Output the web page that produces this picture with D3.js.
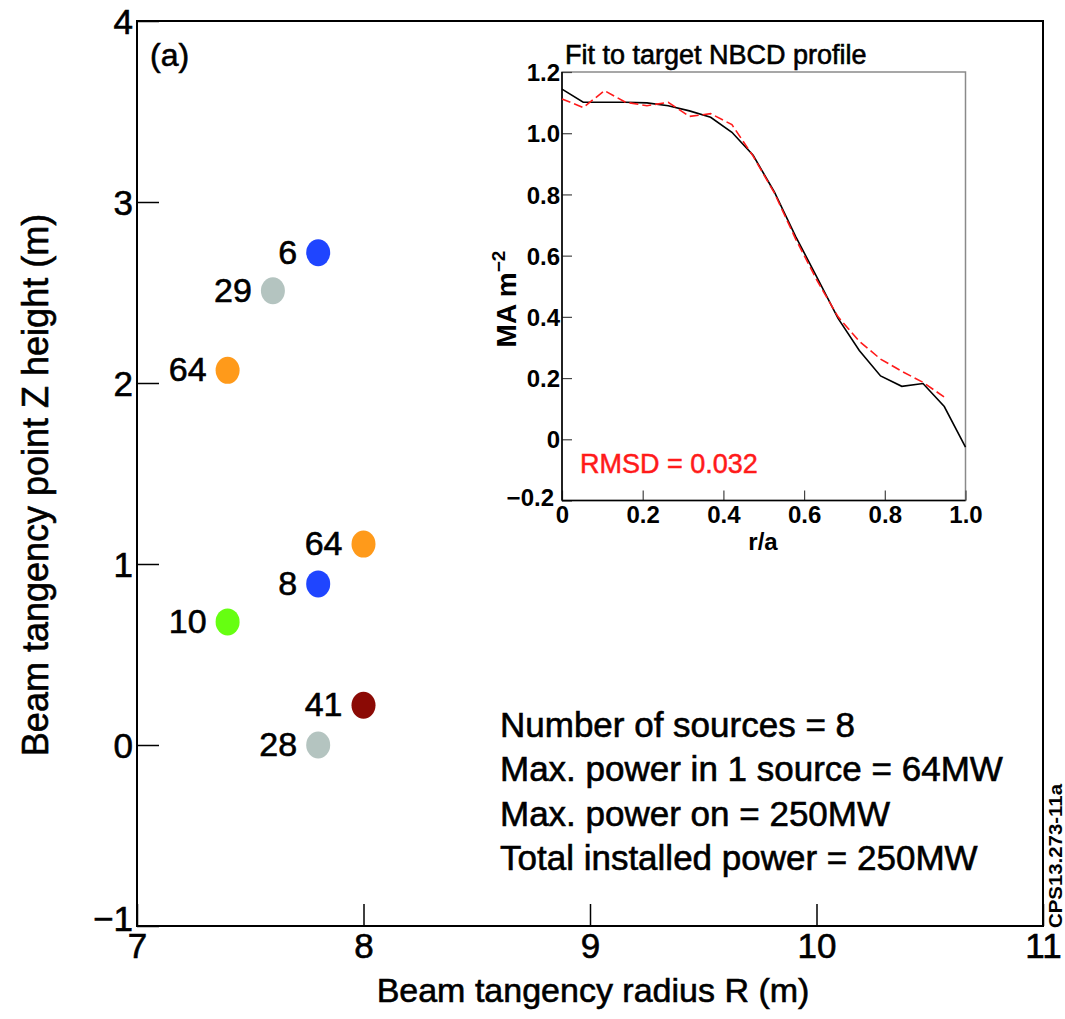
<!DOCTYPE html>
<html>
<head>
<meta charset="utf-8">
<script src="https://cdn.jsdelivr.net/npm/d3@7"></script>
<style>
  html, body { margin: 0; padding: 0; background: #fff; }
  svg { display: block; font-family: "Liberation Sans", Arial, Helvetica, sans-serif; }
  .heavy { stroke: #000; stroke-width: 0.6px; paint-order: stroke; }
  .heavyRed { stroke: #ff1a1a; stroke-width: 0.5px; paint-order: stroke; }
</style>
</head>
<body>
<svg id="chart" width="1065" height="1019"></svg>
<script>
// ---- Main chart data: beam sources ----
const sourceR = [7.8, 7.6, 7.4, 8.0, 7.8, 7.4, 8.0, 7.8];
const sourceZ = [2.72, 2.51, 2.07, 1.11, 0.89, 0.68, 0.22, 0.0];
const sourcePower = ["6", "29", "64", "64", "8", "10", "41", "28"];
const sourceColor = ["#1f45ff", "#b4c4c0", "#ff9a1a", "#ff9a1a", "#1f45ff", "#66ff11", "#8b0a05", "#b4c4c0"];
const mainXTicks = [7, 8, 9, 10, 11];
const mainYTicks = [-1, 0, 1, 2, 3, 4];
const infoLines = [
  "Number of sources = 8",
  "Max. power in 1 source = 64MW",
  "Max. power on = 250MW",
  "Total installed power = 250MW"
];

// ---- Inset data: NBCD profile ----
const rGrid = [0, 0.0526, 0.1053, 0.1579, 0.2105, 0.2632, 0.3158, 0.3684, 0.4211, 0.4737,
               0.5263, 0.5789, 0.6316, 0.6842, 0.7368, 0.7895, 0.8421, 0.8947, 0.9474, 1.0];
const targetProfile = [1.144, 1.101, 1.101, 1.101, 1.099, 1.090, 1.073, 1.052, 1.003, 0.928,
                       0.808, 0.663, 0.530, 0.395, 0.290, 0.207, 0.173, 0.182, 0.107, -0.026];
const fitProfile = [1.112, 1.084, 1.139, 1.101, 1.090, 1.101, 1.055, 1.064, 1.028, 0.925,
                    0.805, 0.655, 0.520, 0.400, 0.320, 0.262, 0.222, 0.186, 0.138];
const insetXTicks = [0, 0.2, 0.4, 0.6, 0.8, 1.0];
const insetYTicks = [-0.2, 0, 0.2, 0.4, 0.6, 0.8, 1.0, 1.2];

const svg = d3.select("#chart");
svg.append("rect").attr("width", 1065).attr("height", 1019).attr("fill", "#fff");

// ---------------- Main chart ----------------
const M = { left: 137, right: 1043, top: 21, bottom: 926 };
const x = d3.scaleLinear().domain([7, 11]).range([M.left, M.right]);
const y = d3.scaleLinear().domain([-1, 4]).range([M.bottom, M.top]);
const fmtMain = d => (d < 0 ? "\u2212" + Math.abs(d) : String(d));

const gx = svg.append("g").attr("transform", `translate(0,${M.bottom})`)
  .call(d3.axisBottom(x).tickValues(mainXTicks).tickSize(-22).tickPadding(7).tickFormat(fmtMain));
const gy = svg.append("g").attr("transform", `translate(${M.left},0)`)
  .call(d3.axisLeft(y).tickValues(mainYTicks).tickSize(-22).tickPadding(4).tickFormat(fmtMain));
[gx, gy].forEach(g => {
  g.select(".domain").remove();
  g.selectAll(".tick line").attr("stroke", "#000").attr("stroke-width", 1.5);
  g.selectAll(".tick text").attr("fill", "#000").attr("font-size", 35)
    .attr("font-family", "Liberation Sans, Arial, sans-serif").attr("class", "heavy");
});
gy.selectAll(".tick text").attr("dy", "0.36em");
// lowest y label sits a little above its tick, clear of the x-axis "7"
gy.selectAll(".tick text").filter(d => d < 0).attr("dy", "0.12em");

svg.append("rect")
  .attr("x", M.left).attr("y", M.top)
  .attr("width", M.right - M.left).attr("height", M.bottom - M.top)
  .attr("fill", "none").attr("stroke", "#000").attr("stroke-width", 2);

// axis titles
svg.append("text")
  .attr("x", 593).attr("y", 1002)
  .attr("text-anchor", "middle").attr("font-size", 34).attr("fill", "#000").attr("class", "heavy")
  .text("Beam tangency radius R (m)");
svg.append("text")
  .attr("transform", "translate(48,485) rotate(-90)")
  .attr("text-anchor", "middle").attr("font-size", 36).attr("fill", "#000").attr("class", "heavy")
  .text("Beam tangency point Z height (m)");

svg.append("text")
  .attr("x", 150).attr("y", 66)
  .attr("font-size", 32).attr("fill", "#000").attr("class", "heavy")
  .text("(a)");

// source points
const srcIdx = d3.range(sourceR.length);
svg.append("g").selectAll("ellipse").data(srcIdx).join("ellipse")
  .attr("cx", i => x(sourceR[i])).attr("cy", i => y(sourceZ[i]))
  .attr("rx", 12).attr("ry", 13.5)
  .attr("fill", i => sourceColor[i]);
svg.append("g").selectAll("text").data(srcIdx).join("text")
  .attr("x", i => x(sourceR[i]) - 21).attr("y", i => y(sourceZ[i]) + 11)
  .attr("text-anchor", "end").attr("font-size", 34).attr("fill", "#000").attr("class", "heavy")
  .text(i => sourcePower[i]);

// info text
svg.append("g").selectAll("text").data(infoLines).join("text")
  .attr("x", 500).attr("y", (d, i) => 737 + i * 44.3)
  .attr("font-size", 35).attr("fill", "#000").attr("class", "heavy")
  .text(d => d);

// watermark
svg.append("text")
  .attr("transform", "translate(1062,856) rotate(-90)")
  .attr("text-anchor", "middle").attr("font-size", 18).attr("font-weight", "bold")
  .attr("textLength", 144).attr("lengthAdjust", "spacingAndGlyphs")
  .attr("fill", "#000")
  .text("CPS13.273-11a");

// ---------------- Inset ----------------
const I = { left: 562, right: 965.5, top: 72, bottom: 500.5 };
const ix = d3.scaleLinear().domain([0, 1]).range([I.left, I.right]);
const iy = d3.scaleLinear().domain([-0.2, 1.2]).range([I.bottom, I.top]);

svg.append("rect")
  .attr("x", I.left).attr("y", I.top)
  .attr("width", I.right - I.left).attr("height", I.bottom - I.top)
  .attr("fill", "#fff").attr("stroke", "#8a8a8a").attr("stroke-width", 1.5);

const fmtIx = d => (d === 0 ? "0" : d.toFixed(1));
const fmtIy = d => (Math.abs(d) < 1e-9 ? "0" : (d < 0 ? "\u2212" + Math.abs(d).toFixed(1) : d.toFixed(1)));

const igx = svg.append("g").attr("transform", `translate(0,${I.bottom})`)
  .call(d3.axisBottom(ix).tickValues(insetXTicks).tickSize(-10).tickPadding(5).tickFormat(fmtIx));
const igy = svg.append("g").attr("transform", `translate(${I.left},0)`)
  .call(d3.axisLeft(iy).tickValues(insetYTicks).tickSize(-10).tickPadding(2).tickFormat(fmtIy));
[igx, igy].forEach(g => {
  g.select(".domain").remove();
  g.selectAll(".tick line").attr("stroke", "#444").attr("stroke-width", 1.2);
  g.selectAll(".tick text").attr("fill", "#000").attr("font-size", 24).attr("font-weight", "bold")
    .attr("font-family", "Liberation Sans, Arial, sans-serif");
});
igy.selectAll(".tick text").attr("dy", "0.36em");
// nudge the lowest y label so it does not collide with the x-axis "0"
igy.selectAll(".tick text").filter(d => d < 0).attr("dx", -6).attr("dy", "0.2em");

// black left/bottom axis lines
svg.append("line").attr("x1", I.left).attr("x2", I.left).attr("y1", I.top).attr("y2", I.bottom)
  .attr("stroke", "#000").attr("stroke-width", 1.6);
svg.append("line").attr("x1", I.left).attr("x2", I.right).attr("y1", I.bottom).attr("y2", I.bottom)
  .attr("stroke", "#000").attr("stroke-width", 1.6);

const line = d3.line().x(d => ix(d[0])).y(d => iy(d[1]));
svg.append("path")
  .datum(targetProfile.map((v, i) => [rGrid[i], v]))
  .attr("d", line).attr("fill", "none").attr("stroke", "#000").attr("stroke-width", 1.6);
svg.append("path")
  .datum(fitProfile.map((v, i) => [rGrid[i], v]))
  .attr("d", line).attr("fill", "none").attr("stroke", "#ff1a1a").attr("stroke-width", 1.6)
  .attr("stroke-dasharray", "9,4");

svg.append("text")
  .attr("x", 565).attr("y", 64)
  .attr("font-size", 27).attr("fill", "#000").attr("class", "heavy")
  .text("Fit to target NBCD profile");
svg.append("text")
  .attr("x", 763).attr("y", 550)
  .attr("text-anchor", "middle").attr("font-size", 24).attr("font-weight", "bold").attr("fill", "#000")
  .text("r/a");
const yl = svg.append("text")
  .attr("transform", "translate(516,299) rotate(-90)")
  .attr("text-anchor", "middle").attr("font-size", 28).attr("font-weight", "bold").attr("fill", "#000");
yl.append("tspan").text("MA m");
yl.append("tspan").attr("dy", -11).attr("font-size", 19).text("\u22122");

svg.append("text")
  .attr("x", 580).attr("y", 473)
  .attr("font-size", 27).attr("fill", "#ff1a1a").attr("class", "heavyRed")
  .text("RMSD = 0.032");
</script>
</body>
</html>
